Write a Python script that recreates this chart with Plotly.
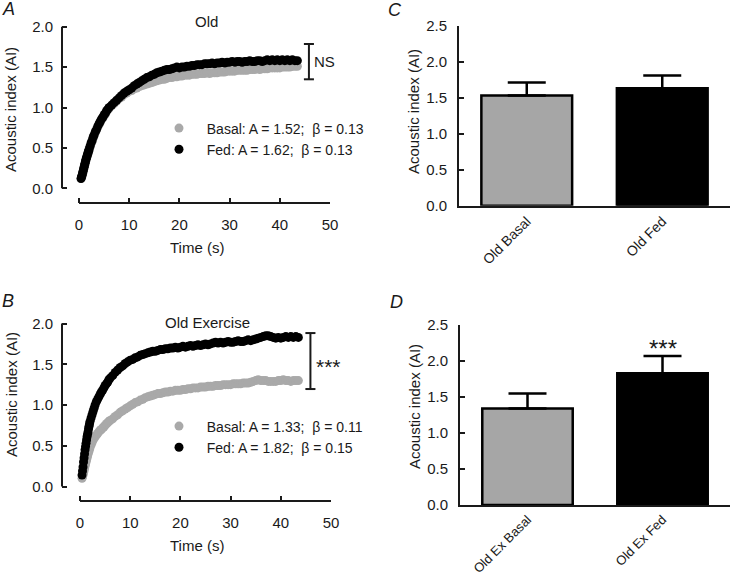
import plotly.graph_objects as go

# ---------------- data ----------------
time_s = [0.4, 0.5, 0.6, 0.7, 0.8, 0.9, 1.0, 1.1, 1.2, 1.3, 1.4, 1.5, 1.6, 1.7, 1.8, 1.9, 2.0,
          2.2, 2.4, 2.6, 2.8, 3.0,
          3.25, 3.5, 3.75, 4.0, 4.25, 4.5, 4.75, 5.0, 5.25, 5.5, 5.75, 6.0,
          6.5, 7.0, 7.5, 8.0, 8.5, 9.0, 9.5, 10.0,
          10.5, 11.0, 11.5, 12.0, 12.5, 13.0, 13.5, 14.0, 14.5, 15.0, 15.5, 16.0, 16.5, 17.0, 17.5, 18.0, 18.5, 19.0, 19.5, 20.0,
          20.5, 21.0, 21.5, 22.0, 22.5, 23.0, 23.5, 24.0, 24.5, 25.0, 25.5, 26.0, 26.5, 27.0, 27.5, 28.0, 28.5, 29.0, 29.5, 30.0,
          30.5, 31.0, 31.5, 32.0, 32.5, 33.0, 33.5, 34.0, 34.5, 35.0, 35.5, 36.0, 36.5, 37.0, 37.5, 38.0, 38.5, 39.0, 39.5, 40.0,
          40.5, 41.0, 41.5, 42.0, 42.5, 43.0, 43.5]

old_basal = [0.12, 0.135, 0.15, 0.175, 0.20, 0.225, 0.25, 0.275, 0.30, 0.325, 0.35, 0.37, 0.39, 0.41, 0.43, 0.45, 0.47,
             0.51, 0.55, 0.58, 0.62, 0.65,
             0.69, 0.72, 0.76, 0.79, 0.82, 0.85, 0.87, 0.90, 0.92, 0.95, 0.97, 0.99,
             1.02, 1.05, 1.08, 1.11, 1.13, 1.16, 1.18, 1.20,
             1.21, 1.23, 1.24, 1.26, 1.27, 1.28, 1.29, 1.30, 1.31, 1.32, 1.33, 1.34, 1.35, 1.35, 1.36, 1.37, 1.37, 1.38, 1.38, 1.39,
             1.39, 1.40, 1.40, 1.40, 1.41, 1.41, 1.41, 1.42, 1.42, 1.42, 1.43, 1.42, 1.43, 1.43, 1.43, 1.44, 1.44, 1.44, 1.45, 1.45,
             1.45, 1.45, 1.46, 1.46, 1.46, 1.46, 1.46, 1.47, 1.47, 1.47, 1.48, 1.47, 1.48, 1.48, 1.48, 1.49, 1.49, 1.49, 1.49, 1.49,
             1.50, 1.50, 1.50, 1.50, 1.51, 1.51, 1.51]
old_fed = [0.12, 0.14, 0.16, 0.185, 0.21, 0.235, 0.26, 0.285, 0.31, 0.335, 0.36, 0.38, 0.40, 0.42, 0.44, 0.46, 0.48,
           0.52, 0.56, 0.59, 0.63, 0.66,
           0.70, 0.73, 0.77, 0.80, 0.83, 0.86, 0.88, 0.91, 0.93, 0.96, 0.98, 1.00,
           1.03, 1.06, 1.09, 1.12, 1.15, 1.18, 1.20, 1.22,
           1.24, 1.27, 1.29, 1.31, 1.33, 1.35, 1.37, 1.38, 1.40, 1.41, 1.43, 1.44, 1.45, 1.46, 1.47, 1.47, 1.48, 1.49, 1.50, 1.49,
           1.50, 1.50, 1.51, 1.51, 1.52, 1.52, 1.53, 1.53, 1.53, 1.54, 1.54, 1.54, 1.55, 1.54, 1.55, 1.55, 1.56, 1.55, 1.56, 1.56,
           1.57, 1.56, 1.57, 1.57, 1.56, 1.57, 1.57, 1.58, 1.57, 1.57, 1.58, 1.58, 1.57, 1.58, 1.59, 1.58, 1.59, 1.58, 1.59, 1.58,
           1.59, 1.58, 1.59, 1.58, 1.59, 1.58, 1.58]

ex_basal = [0.10, 0.12, 0.14, 0.165, 0.19, 0.22, 0.25, 0.275, 0.30, 0.325, 0.35, 0.375, 0.40, 0.42, 0.44, 0.46, 0.48,
            0.51, 0.54, 0.57, 0.59, 0.61,
            0.63, 0.65, 0.67, 0.69, 0.70, 0.72, 0.73, 0.75, 0.77, 0.78, 0.80, 0.81,
            0.83, 0.86, 0.88, 0.91, 0.93, 0.95, 0.97, 0.99,
            1.01, 1.03, 1.04, 1.06, 1.07, 1.09, 1.10, 1.11, 1.12, 1.13, 1.14, 1.14, 1.15, 1.16, 1.16, 1.17, 1.17, 1.18, 1.18, 1.18,
            1.19, 1.19, 1.20, 1.20, 1.21, 1.21, 1.21, 1.22, 1.22, 1.22, 1.23, 1.23, 1.23, 1.24, 1.24, 1.24, 1.25, 1.25, 1.25, 1.25,
            1.26, 1.26, 1.26, 1.26, 1.27, 1.27, 1.27, 1.28, 1.29, 1.30, 1.31, 1.30, 1.30, 1.30, 1.29, 1.29, 1.29, 1.29, 1.30, 1.30,
            1.31, 1.30, 1.30, 1.29, 1.30, 1.30, 1.30]
ex_fed = [0.14, 0.19, 0.24, 0.30, 0.35, 0.40, 0.45, 0.49, 0.53, 0.57, 0.61, 0.64, 0.67, 0.71, 0.74, 0.77, 0.80,
          0.84, 0.88, 0.92, 0.96, 1.00,
          1.04, 1.07, 1.10, 1.13, 1.16, 1.18, 1.21, 1.24, 1.26, 1.28, 1.31, 1.33,
          1.36, 1.40, 1.43, 1.46, 1.48, 1.51, 1.53, 1.55,
          1.56, 1.58, 1.59, 1.61, 1.62, 1.63, 1.64, 1.65, 1.66, 1.66, 1.67, 1.68, 1.68, 1.69, 1.69, 1.70, 1.70, 1.71, 1.70, 1.71,
          1.72, 1.71, 1.72, 1.73, 1.72, 1.73, 1.74, 1.73, 1.74, 1.75, 1.74, 1.75, 1.76, 1.77, 1.76, 1.77, 1.76, 1.77, 1.78, 1.77,
          1.77, 1.78, 1.79, 1.78, 1.78, 1.79, 1.80, 1.79, 1.80, 1.81, 1.82, 1.83, 1.84, 1.85, 1.85, 1.84, 1.83, 1.82, 1.83, 1.82,
          1.83, 1.84, 1.83, 1.84, 1.83, 1.84, 1.83]

legend_old = ["\u00a0\u00a0Basal: A = 1.52; \u00a0\u03b2 = 0.13", "\u00a0\u00a0Fed: A = 1.62; \u00a0\u03b2 = 0.13"]
legend_ex = ["\u00a0\u00a0Basal: A = 1.33; \u00a0\u03b2 = 0.11", "\u00a0\u00a0Fed: A = 1.82; \u00a0\u03b2 = 0.15"]

bar_c_labels = ["Old Basal", "Old Fed"]
bar_c_values = [1.53, 1.63]
bar_c_err = [0.18, 0.18]
bar_d_labels = ["Old Ex Basal", "Old Ex Fed"]
bar_d_values = [1.34, 1.83]
bar_d_err = [0.21, 0.24]

line_ticks = [0, 10, 20, 30, 40, 50]
ai_ticks_line = [0.0, 0.5, 1.0, 1.5, 2.0]
ai_ticks_bar = [0.0, 0.5, 1.0, 1.5, 2.0, 2.5]

# ---------------- style ----------------
W, H = 733, 579
FONT = "Liberation Sans, Arial, sans-serif"
INK = "#1a1a1a"
GRAY = "#a9a9a9"
BAR_GRAY = "#a6a6a6"


def px(x):
    return x / W


def py(y):
    return 1 - y / H


fig = go.Figure()

# Panel A
fig.add_trace(go.Scatter(x=time_s, y=old_basal, mode="markers", name=legend_old[0],
                         marker=dict(size=9, color=GRAY), xaxis="x", yaxis="y", legend="legend"))
fig.add_trace(go.Scatter(x=time_s, y=old_fed, mode="markers", name=legend_old[1],
                         marker=dict(size=9, color="black"), xaxis="x", yaxis="y", legend="legend"))
# Panel B
fig.add_trace(go.Scatter(x=time_s, y=ex_basal, mode="markers", name=legend_ex[0],
                         marker=dict(size=9, color=GRAY), xaxis="x2", yaxis="y2", legend="legend2"))
fig.add_trace(go.Scatter(x=time_s, y=ex_fed, mode="markers", name=legend_ex[1],
                         marker=dict(size=9, color="black"), xaxis="x2", yaxis="y2", legend="legend2"))

# Panel C
fig.add_trace(go.Bar(x=bar_c_labels, y=bar_c_values, width=0.67,
                     marker=dict(color=[BAR_GRAY, "black"], line=dict(color="black", width=2.5)),
                     error_y=dict(type="data", array=bar_c_err, arrayminus=[0, 0], symmetric=False,
                                  color="black", thickness=2.5, width=19),
                     xaxis="x3", yaxis="y3", showlegend=False))
# Panel D
fig.add_trace(go.Bar(x=bar_d_labels, y=bar_d_values, width=0.67,
                     marker=dict(color=[BAR_GRAY, "black"], line=dict(color="black", width=2.5)),
                     error_y=dict(type="data", array=bar_d_err, arrayminus=[0, 0], symmetric=False,
                                  color="black", thickness=2.5, width=19),
                     xaxis="x4", yaxis="y4", showlegend=False))

tickfont = dict(family=FONT, size=15, color=INK)
common = dict(showgrid=False, zeroline=False, ticks="inside", ticklen=5, tickwidth=2,
              tickcolor=INK, tickfont=tickfont, automargin=False)
bar_x = dict(showline=True, linewidth=2, linecolor=INK, showgrid=False, zeroline=False, ticks="",
             tickangle=-45, automargin=False, range=[-0.5, 1.5], ticklabelstandoff=0)

layout = dict(
    template="none",
    width=W, height=H,
    margin=dict(l=0, r=0, t=0, b=0, pad=0),
    paper_bgcolor="white", plot_bgcolor="white",
    font=dict(family=FONT, size=15, color=INK),
    hovermode=False,
    # A
    xaxis=dict(domain=[px(62), px(330)], range=[-3.39, 50], tickvals=line_ticks, showline=False,
               anchor="y", ticklabelstandoff=11, **common),
    yaxis=dict(domain=[py(203), py(20)], range=[-0.182, 2.083], tickvals=ai_ticks_line, tickformat=".1f",
               showline=False, anchor="x", ticklabelstandoff=8, **common),
    # B
    xaxis2=dict(domain=[px(62), px(331)], range=[-3.59, 50], tickvals=line_ticks, showline=False,
                anchor="y2", ticklabelstandoff=11, **common),
    yaxis2=dict(domain=[py(501), py(310)], range=[-0.178, 2.166], tickvals=ai_ticks_line, tickformat=".1f",
                showline=False, anchor="x2", ticklabelstandoff=8, **common),
    # C
    xaxis3=dict(domain=[px(459), px(730)], anchor="y3",
                tickfont=dict(family=FONT, size=14, color=INK), **bar_x),
    yaxis3=dict(domain=[py(205.7), py(25.7)], range=[0, 2.5], tickvals=ai_ticks_bar, tickformat=".1f",
                showline=True, linewidth=2, linecolor=INK, anchor="x3", ticklabelstandoff=7, **common),
    # D
    xaxis4=dict(domain=[px(460), px(730)], anchor="y4",
                tickfont=dict(family=FONT, size=13, color=INK), **bar_x),
    yaxis4=dict(domain=[py(505), py(325)], range=[0, 2.5], tickvals=ai_ticks_bar, tickformat=".1f",
                showline=True, linewidth=2, linecolor=INK, anchor="x4", ticklabelstandoff=7, **common),
    legend=dict(x=px(159), y=py(112.5), xanchor="left", yanchor="top", bgcolor="rgba(0,0,0,0)",
                font=dict(family=FONT, size=14, color=INK), tracegroupgap=0, borderwidth=0),
    legend2=dict(x=px(159), y=py(410.5), xanchor="left", yanchor="top", bgcolor="rgba(0,0,0,0)",
                 font=dict(family=FONT, size=14, color=INK), tracegroupgap=0, borderwidth=0),
)
fig.update_layout(**layout)

# axis lines for the offset (Prism-style) line panels
axis_line = dict(color=INK, width=2)
shapes = [
    dict(type="line", xref="x domain", yref="y", x0=0, x1=0, y0=0, y1=2, line=axis_line),
    dict(type="line", xref="x", yref="y domain", x0=0, x1=50, y0=0, y1=0, line=axis_line),
    dict(type="line", xref="x2 domain", yref="y2", x0=0, x1=0, y0=0, y1=2, line=axis_line),
    dict(type="line", xref="x2", yref="y2 domain", x0=0, x1=50, y0=0, y1=0, line=axis_line),
]
# significance brackets
br = dict(color=INK, width=2)
for (xr, yr, xc, ylo, yhi) in [("x", "y", 45.8, 1.349, 1.786), ("x2", "y2", 45.9, 1.196, 1.883)]:
    shapes.append(dict(type="line", xref=xr, yref=yr, x0=xc, x1=xc, y0=ylo, y1=yhi, line=br))
    shapes.append(dict(type="line", xref=xr, yref=yr, x0=xc - 1.0, x1=xc + 1.0, y0=ylo, y1=ylo, line=br))
    shapes.append(dict(type="line", xref=xr, yref=yr, x0=xc - 1.0, x1=xc + 1.0, y0=yhi, y1=yhi, line=br))
fig.update_layout(shapes=shapes)

ann = []


def text(x, y, s, size=15, angle=0, italic=False, xanchor="center"):
    ann.append(dict(xref="paper", yref="paper", x=px(x), y=py(y), text=s, showarrow=False,
                    xanchor=xanchor, yanchor="middle", textangle=angle,
                    font=dict(family=FONT, size=size, color=INK,
                              style="italic" if italic else "normal")))


# panel letters
text(8, 9, "A", size=18, italic=True)
text(8, 301, "B", size=18, italic=True)
text(395, 10, "C", size=18, italic=True)
text(396, 302, "D", size=18, italic=True)
# titles
text(206, 21, "Old", size=15)
text(207, 322, "Old Exercise", size=15)
# axis titles
text(197, 247, "Time (s)", size=15)
text(197, 545, "Time (s)", size=15)
text(11, 110, "Acoustic index (AI)", size=15, angle=-90)
text(11, 395, "Acoustic index (AI)", size=15, angle=-90)
text(414, 112, "Acoustic index (AI)", size=15, angle=-90)
text(414, 407, "Acoustic index (AI)", size=15, angle=-90)
# significance labels
text(324, 62, "NS", size=15)
text(328.5, 366, "***", size=21)
text(663, 348, "***", size=24)

fig.update_layout(annotations=ann)

fig.write_html("out.html", config={"displayModeBar": False},
               post_script="document.body.style.margin='0';")
